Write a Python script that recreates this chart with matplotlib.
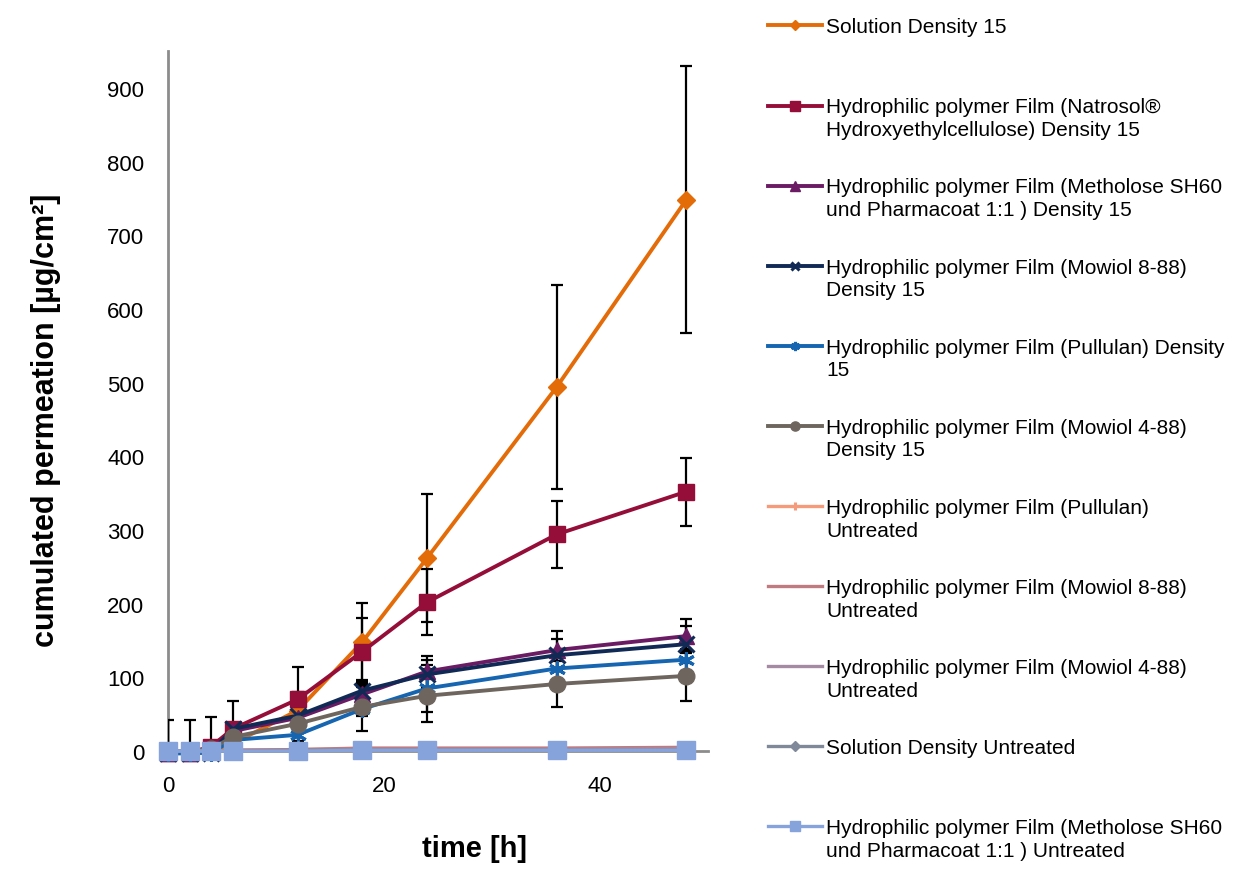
import matplotlib

matplotlib.use("Agg")
import matplotlib.pyplot as plt

plt.rcParams["font.family"] = ["Liberation Sans", "DejaVu Sans"]

# sampling times [h]
time_h = [0, 2, 4, 6, 12, 18, 24, 36, 48]

labels = [
    "Solution Density 15\n",
    "Hydrophilic polymer Film (Natrosol®\nHydroxyethylcellulose) Density 15",
    "Hydrophilic polymer Film (Metholose SH60\nund Pharmacoat 1:1 ) Density 15",
    "Hydrophilic polymer Film (Mowiol 8-88)\nDensity 15",
    "Hydrophilic polymer Film (Pullulan) Density\n15",
    "Hydrophilic polymer Film (Mowiol 4-88)\nDensity 15",
    "Hydrophilic polymer Film (Pullulan)\nUntreated",
    "Hydrophilic polymer Film (Mowiol 8-88)\nUntreated",
    "Hydrophilic polymer Film (Mowiol 4-88)\nUntreated",
    "Solution Density Untreated\n",
    "Hydrophilic polymer Film (Metholose SH60\nund Pharmacoat 1:1 ) Untreated",
]

# cumulated permeation [ug/cm2]
solution_15 = [0, 0, 0, 10, 55, 148, 262, 494, 748]
natrosol_15 = [-2, -2, 6, 30, 70, 135, 202, 294, 352]
metholose_15 = [-2, -2, 0, 27, 45, 77, 108, 137, 156]
mowiol888_15 = [-3, -3, -2, 30, 48, 82, 104, 130, 145]
pullulan_15 = [-3, -3, -2, 15, 22, 57, 85, 112, 124]
mowiol488_15 = [0, 0, 3, 19, 37, 60, 75, 91, 102]
pullulan_un = [0, 0, 0, 1, 2, 3, 3, 3, 3]
mowiol888_un = [0, 0, 0, 1, 2, 4, 4, 4, 5]
mowiol488_un = [0, 0, 0, 1, 1, 2, 2, 2, 3]
solution_un = [0, 0, 0, 0, 1, 1, 1, 1, 1]
metholose_un = [0, 0, 0, 0, 0, 1, 1, 1, 1]

# standard deviations
solution_15_sd = [0, 0, 0, 10, 25, 53, 87, 138, 181]
natrosol_15_sd = [44, 44, 40, 38, 44, 46, 45, 45, 46]
metholose_15_sd = [0, 0, 0, 5, 8, 15, 21, 26, 23]
mowiol888_15_sd = [0, 0, 0, 5, 8, 14, 20, 22, 25]
pullulan_15_sd = [0, 0, 0, 5, 8, 30, 32, 15, 15]
mowiol488_15_sd = [0, 0, 0, 4, 8, 12, 36, 31, 34]

series = [
    (solution_15, solution_15_sd, "#E36C09", "D", 9.5),
    (natrosol_15, natrosol_15_sd, "#950E3A", "s", 12),
    (metholose_15, metholose_15_sd, "#6A1B63", "^", 12),
    (mowiol888_15, mowiol888_15_sd, "#112A55", "x", 11),
    (pullulan_15, pullulan_15_sd, "#1565B0", (6, 2, 0), 12),
    (mowiol488_15, mowiol488_15_sd, "#6E665E", "o", 12),
    (pullulan_un, None, "#F59B7C", "+", 11),
    (mowiol888_un, None, "#BF7B80", "_", 11),
    (mowiol488_un, None, "#A58AA3", "None", 0),
    (solution_un, None, "#80899A", "D", 9.5),
    (metholose_un, None, "#87A3DC", "s", 12.5),
]

fig = plt.figure(figsize=(12.44, 8.7), dpi=100)
ax = fig.add_axes([0.135, 0.1356, 0.434, 0.8046])

handles = []
for (vals, sd, color, marker, ms), label in zip(series, labels):
    if sd is not None:
        ax.errorbar(time_h, vals, yerr=sd, fmt="none", ecolor="black",
                    elinewidth=1.6, capsize=4.5, capthick=1.6, zorder=2)
    lw = 2.8 if sd is not None else 2.4
    mew = 2.2 if marker in ("x", "+", "_", (6, 2, 0)) else 1
    (ln,) = ax.plot(time_h, vals, color=color, lw=lw, marker=marker, ms=ms,
                    mew=mew, mec=color, mfc=color, label=label, clip_on=False,
                    zorder=3)
    handles.append(ln)

ax.set_xlim(0, 50)
ax.set_ylim(0, 950)
ax.set_xticks([0, 20, 40])
ax.set_yticks(range(0, 1000, 100))
ax.tick_params(length=0, labelsize=16, pad=17)
for side in ("top", "right"):
    ax.spines[side].set_visible(False)
for side in ("left", "bottom"):
    ax.spines[side].set_color("#8C8C8C")
    ax.spines[side].set_linewidth(2)
    ax.spines[side].set_zorder(1)

ax.set_xlabel("time [h]", fontsize=21, fontweight="bold")
ax.set_ylabel("cumulated permeation [µg/cm²]", fontsize=22, fontweight="bold")
ax.xaxis.set_label_coords(0.567, -0.118)
ax.yaxis.set_label_coords(-0.199, 0.474)

leg = ax.legend(handles=handles, loc="upper left",
                bbox_to_anchor=(0.6174, 0.979), bbox_transform=fig.transFigure,
                frameon=False, fontsize=15, borderpad=0, borderaxespad=0,
                handlelength=2.6, handletextpad=0.2, handleheight=1.0,
                labelspacing=1.84, markerscale=0.55)
for txt in leg.get_texts():
    txt.set_linespacing(1.25)
# put the handle next to the first line of a wrapped label
for col in leg._legend_handle_box.get_children():
    for row in col.get_children():
        row.align = "top"

fig.savefig("out.png", dpi=100)
